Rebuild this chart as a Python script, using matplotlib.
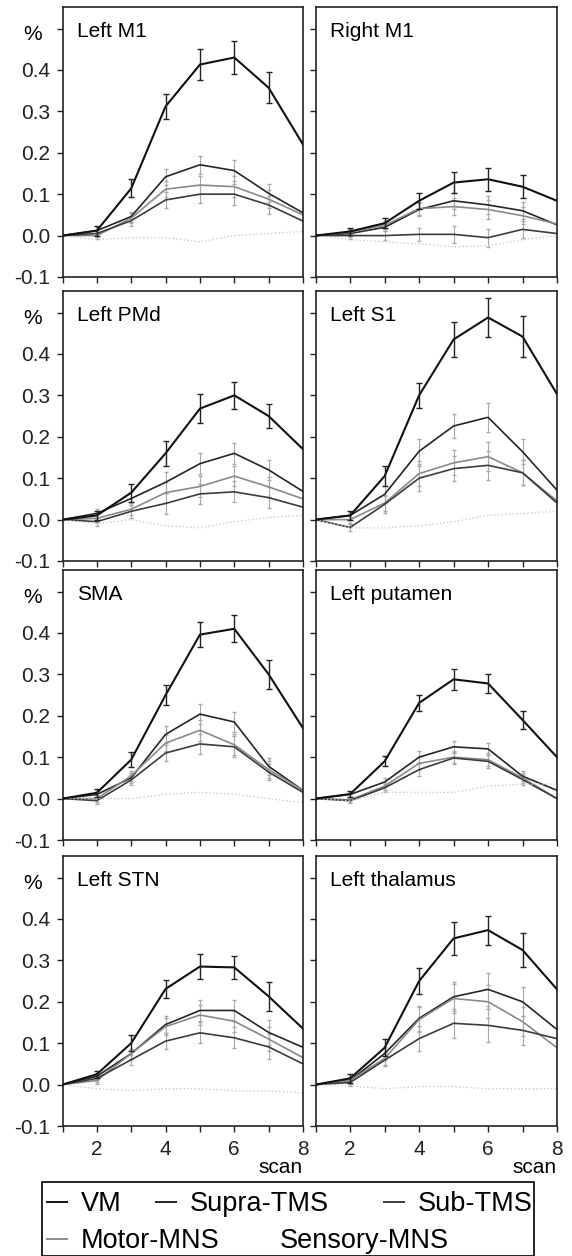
import matplotlib
matplotlib.use('Agg')
import matplotlib.pyplot as plt
from matplotlib.lines import Line2D
from matplotlib.patches import Rectangle

plt.rcParams['font.family'] = ['Liberation Sans', 'DejaVu Sans']

# scan number (x axis) and panel names
scans = [1, 2, 3, 4, 5, 6, 7, 8]
regions = ['Left M1', 'Right M1', 'Left PMd', 'Left S1',
           'SMA', 'Left putamen', 'Left STN', 'Left thalamus']

# mean signal change (%), one row per region
vm = [
    [0, 0.012, 0.114, 0.312, 0.413, 0.430, 0.357, 0.220],
    [0, 0.010, 0.030, 0.084, 0.128, 0.136, 0.118, 0.084],
    [0, 0.010, 0.065, 0.160, 0.268, 0.300, 0.250, 0.170],
    [0, 0.010, 0.105, 0.300, 0.435, 0.488, 0.442, 0.303],
    [0, 0.014, 0.094, 0.250, 0.396, 0.410, 0.300, 0.170],
    [0, 0.011, 0.090, 0.231, 0.288, 0.278, 0.190, 0.100],
    [0, 0.025, 0.100, 0.231, 0.285, 0.283, 0.213, 0.135],
    [0, 0.015, 0.089, 0.250, 0.353, 0.373, 0.325, 0.230],
]
supra_tms = [
    [0, 0.012, 0.046, 0.142, 0.171, 0.157, 0.102, 0.055],
    [0, 0.005, 0.020, 0.063, 0.084, 0.074, 0.060, 0.026],
    [0, 0.015, 0.051, 0.090, 0.135, 0.160, 0.120, 0.068],
    [0, 0.010, 0.061, 0.165, 0.226, 0.247, 0.164, 0.071],
    [0, 0.010, 0.050, 0.155, 0.204, 0.185, 0.078, 0.020],
    [0, 0.010, 0.040, 0.100, 0.125, 0.120, 0.054, 0.020],
    [0, 0.020, 0.075, 0.145, 0.179, 0.179, 0.126, 0.090],
    [0, 0.010, 0.075, 0.160, 0.212, 0.230, 0.200, 0.133],
]
motor_mns = [
    [0, 0.000, 0.042, 0.112, 0.122, 0.118, 0.088, 0.050],
    [0, 0.008, 0.025, 0.065, 0.070, 0.063, 0.048, 0.028],
    [0, 0.003, 0.025, 0.065, 0.080, 0.105, 0.079, 0.050],
    [0, 0.000, 0.040, 0.111, 0.137, 0.152, 0.113, 0.045],
    [0, 0.000, 0.055, 0.134, 0.165, 0.130, 0.070, 0.020],
    [0, -0.003, 0.030, 0.085, 0.100, 0.094, 0.050, 0.000],
    [0, 0.010, 0.075, 0.140, 0.168, 0.153, 0.110, 0.065],
    [0, 0.010, 0.063, 0.157, 0.208, 0.200, 0.152, 0.089],
]
sub_tms = [
    [0, 0.005, 0.036, 0.086, 0.100, 0.100, 0.074, 0.035],
    [0, 0.000, 0.000, 0.003, 0.003, -0.005, 0.015, 0.005],
    [0, -0.005, 0.020, 0.039, 0.062, 0.067, 0.053, 0.030],
    [0, -0.019, 0.037, 0.100, 0.123, 0.131, 0.113, 0.040],
    [0, -0.005, 0.045, 0.110, 0.132, 0.125, 0.064, 0.015],
    [0, -0.005, 0.026, 0.070, 0.098, 0.090, 0.046, 0.000],
    [0, 0.015, 0.060, 0.105, 0.125, 0.113, 0.091, 0.050],
    [0, 0.005, 0.059, 0.111, 0.148, 0.143, 0.131, 0.111],
]
sensory_mns = [
    [0, -0.010, -0.005, -0.005, -0.015, 0.000, 0.005, 0.010],
    [0, -0.010, -0.015, -0.020, -0.027, -0.025, -0.010, 0.000],
    [0, -0.010, 0.000, -0.015, -0.020, -0.005, 0.005, 0.010],
    [0, -0.020, -0.020, -0.015, -0.005, 0.010, 0.015, 0.020],
    [0, 0.000, 0.000, 0.010, 0.015, 0.010, 0.000, -0.010],
    [0, -0.005, 0.015, 0.015, 0.015, 0.030, 0.035, 0.035],
    [0, -0.010, -0.015, -0.010, -0.010, -0.015, -0.015, -0.020],
    [0, -0.003, -0.010, -0.005, -0.005, -0.010, -0.010, -0.010],
]

# standard errors at scans 2-7
vm_err = [
    [0.012, 0.022, 0.030, 0.038, 0.040, 0.038],
    [0.008, 0.012, 0.020, 0.025, 0.028, 0.028],
    [0.010, 0.022, 0.030, 0.035, 0.033, 0.030],
    [0.010, 0.025, 0.030, 0.042, 0.048, 0.050],
    [0.010, 0.018, 0.025, 0.030, 0.033, 0.035],
    [0.008, 0.012, 0.020, 0.025, 0.022, 0.022],
    [0.008, 0.020, 0.022, 0.030, 0.028, 0.035],
    [0.010, 0.020, 0.032, 0.040, 0.035, 0.040],
]
other_err = [
    [0.008, 0.012, 0.020, 0.022, 0.025, 0.022],
    [0.008, 0.010, 0.015, 0.020, 0.022, 0.020],
    [0.010, 0.015, 0.025, 0.025, 0.025, 0.025],
    [0.008, 0.020, 0.030, 0.030, 0.035, 0.030],
    [0.008, 0.012, 0.020, 0.025, 0.025, 0.020],
    [0.006, 0.010, 0.015, 0.015, 0.015, 0.012],
    [0.008, 0.012, 0.020, 0.025, 0.025, 0.030],
    [0.008, 0.015, 0.030, 0.035, 0.040, 0.035],
]

series = [
    ('VM', vm, '#111111', 1.5, '-'),
    ('Supra-TMS', supra_tms, '#262626', 1.2, '-'),
    ('Motor-MNS', motor_mns, '#8a8a8a', 1.2, '-'),
    ('Sub-TMS', sub_tms, '#3c3c3c', 1.2, '-'),
    ('Sensory-MNS', sensory_mns, '#cccccc', 1.0, ':'),
]

fig = plt.figure(figsize=(5.72, 12.56), dpi=100)
W, H = 572.0, 1256.0
col_px = [(62.5, 240.5), (315.7, 241.3)]
row_px = [7, 291, 570, 856]
panel_h = 270

for i, name in enumerate(regions):
    r, c = divmod(i, 2)
    x0, w = col_px[c]
    ax = fig.add_axes([x0 / W, 1 - (row_px[r] + panel_h) / H, w / W, panel_h / H])

    for label, data, color, lw, ls in series:
        ax.plot(scans, data[i], color=color, lw=lw, ls=ls, zorder=3 if label == 'VM' else 2)
        if label == 'VM':
            ax.errorbar(scans[1:7], data[i][1:7], yerr=vm_err[i], fmt='none',
                        ecolor='#222222', elinewidth=1.0, capsize=2, zorder=3)
        elif label != 'Sensory-MNS':
            ax.errorbar(scans[1:7], data[i][1:7], yerr=other_err[i], fmt='none',
                        ecolor='#aaaaaa', elinewidth=0.8, capsize=1.5, ls=':', zorder=1)

    ax.set_xlim(1, 8)
    ax.set_ylim(-0.1, 0.552)
    ax.set_xticks([2, 4, 6, 8])
    ax.set_xticks([1, 3, 5, 7], minor=True)
    ax.set_yticks([-0.1, 0.0, 0.1, 0.2, 0.3, 0.4, 0.5])
    ax.tick_params(which='both', direction='out', length=4, width=1, colors='#222222',
                   labelsize=15, pad=5)
    if c == 0:
        ax.set_yticklabels(['-0.1', '0.0', '0.1', '0.2', '0.3', '0.4', ''])
        ax.text(-0.125, 0.486, '%', transform=ax.get_yaxis_transform(),
                ha='center', va='center', fontsize=15)
    else:
        ax.set_yticklabels([])
    if r == 3:
        ax.set_xticklabels(['2', '4', '6', '8'])
        ax.tick_params(axis='x', pad=6)
        ax.text(1.0, -0.118, 'scan', transform=ax.transAxes, ha='right', va='top', fontsize=15)
    else:
        ax.set_xticklabels([])
    for sp in ax.spines.values():
        sp.set_linewidth(1.2)
        sp.set_color('#222222')
    ax.text(0.06, 0.943, name, transform=ax.transAxes, ha='left', va='top', fontsize=15)

# legend: a framed box with two loosely spaced rows
legend_pos = {'VM': (47, 1204), 'Supra-TMS': (156, 1204), 'Sub-TMS': (384, 1204),
              'Motor-MNS': (47, 1241), 'Sensory-MNS': (246, 1241)}
for label, _, color, _, _ in series:
    h = Line2D([], [], color=color if label != 'Sensory-MNS' else 'none', lw=1.4)
    px, py = legend_pos[label]
    fig.legend([h], [label], loc='center left', bbox_to_anchor=(px / W, 1 - py / H),
               frameon=False, fontsize=19.5, handlelength=0.75, handletextpad=0.5,
               borderpad=0, borderaxespad=0)
fig.add_artist(Rectangle((42 / W, 0.0), (534 - 42) / W, (1256 - 1182) / H,
                         transform=fig.transFigure, fill=False, edgecolor='black', lw=1.2))

fig.savefig('out.png', dpi=100)
